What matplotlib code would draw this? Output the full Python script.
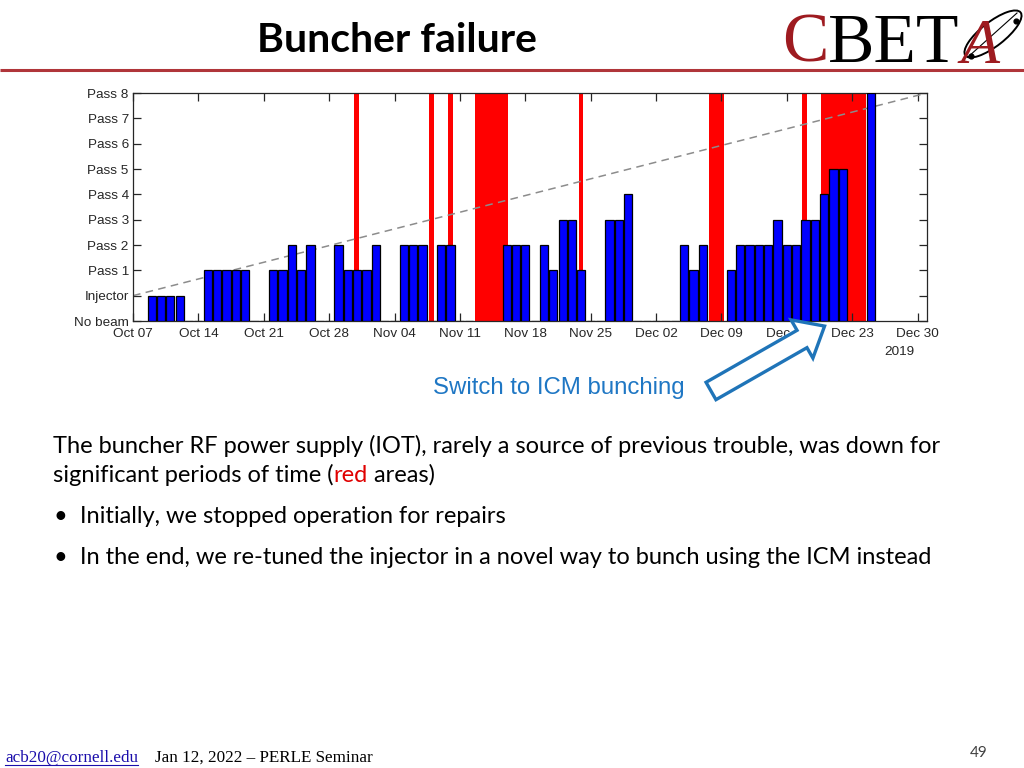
import numpy as np
import pandas as pd
import matplotlib
matplotlib.use("Agg")
import matplotlib.pyplot as plt
import matplotlib.dates as mdates
from matplotlib.patches import FancyArrow, Ellipse

# Daily beam status, Oct 09 .. Dec 25 2019
# 0 = No beam, 1 = Injector, 2 = Pass 1 ... 9 = Pass 8, nan = no entry
first_day = "2019-10-09"
levels = [1, 1, 1, 1, 0, 0, 2, 2, 2, 2, 2, 0, 0, 2, 2, 3, 2, 3, 0, 0,
          3, 2, 2, 2, 3, 0, 0, 3, 3, 3, 0, 3, 3, 0, 0, np.nan, np.nan, np.nan,
          3, 3, 3, 0, 3, 2, 4, 4, 2, 0, 0, 4, 4, 5, 0, 0, 0, 0, 0,
          3, 2, 3, np.nan, np.nan, 2, 3, 3, 3, 3, 4, 3, 3, 4, 4, 5, 6, 6,
          np.nan, np.nan, 9]

# Buncher down periods (red areas)
down_start = ["2019-10-30 17:00", "2019-11-07 17:00", "2019-11-09 17:00",
              "2019-11-12 15:30", "2019-11-23 17:00", "2019-12-07 15:30",
              "2019-12-17 15:30", "2019-12-19 15:30"]
down_end = ["2019-10-31 05:00", "2019-11-08 05:00", "2019-11-10 05:00",
            "2019-11-16 03:30", "2019-11-24 05:00", "2019-12-09 06:00",
            "2019-12-18 03:30", "2019-12-24 11:00"]

# Goal line: Injector on Oct 07 to Pass 8 at end of December
goal_dates = ["2019-10-07", "2019-12-31"]
goal_levels = [1, 9]

level_names = ["No beam", "Injector", "Pass 1", "Pass 2", "Pass 3",
               "Pass 4", "Pass 5", "Pass 6", "Pass 7", "Pass 8"]
tick_dates = pd.date_range("2019-10-07", "2019-12-30", freq="7D")

days = pd.date_range(first_day, periods=len(levels), freq="D")
df = pd.DataFrame({"day": days, "level": levels}).dropna()

fig = plt.figure(figsize=(10.24, 7.68), dpi=100)
fig.patch.set_facecolor("white")

# ---- chart ----
ax = fig.add_axes([133 / 1024, 1 - 321 / 768, 794 / 1024, 228 / 768])
for s, e in zip(down_start, down_end):
    ax.axvspan(pd.Timestamp(s), pd.Timestamp(e), color="#ff0000", lw=0, zorder=1)
ax.plot(pd.to_datetime(goal_dates), goal_levels, ls=(0, (5, 3.5)), color="#8c8c8c",
        lw=1.1, zorder=2)
ax.bar(df["day"], df["level"], width=0.88, color="#0000ff", edgecolor="black",
       linewidth=0.9, zorder=3)

ax.set_xlim(pd.Timestamp("2019-10-07"), pd.Timestamp("2019-12-31"))
ax.set_ylim(0, 9)
ax.set_yticks(range(10))
ax.set_yticklabels(level_names)
ax.set_xticks(tick_dates)
ax.xaxis.set_major_formatter(mdates.DateFormatter("%b %d"))
for sp in ax.spines.values():
    sp.set_color("#262626")
    sp.set_linewidth(0.9)
ax.tick_params(direction="in", length=5.5, width=0.9, color="#262626",
               top=True, right=True, labelsize=9.7, labelcolor="#262626")
ax.tick_params(axis="x", pad=5)
ax.tick_params(axis="y", pad=3)
for lab in ax.get_xticklabels() + ax.get_yticklabels():
    lab.set_fontfamily("Liberation Sans")
ax.annotate("2019", xy=(pd.Timestamp("2019-12-30"), 0),
            xycoords=("data", "axes fraction"), xytext=(-13, -22.5),
            textcoords="offset points", ha="center", va="center",
            fontsize=9.7, color="#262626", family="Liberation Sans")

# ---- slide overlay in pixel coordinates ----
sl = fig.add_axes([0, 0, 1, 1], zorder=5)
sl.set_xlim(0, 1024)
sl.set_ylim(768, 0)
sl.axis("off")
sl.patch.set_alpha(0)
rend = fig.canvas.get_renderer()

sl.text(397, 40, "Buncher failure", ha="center", va="center", fontsize=29.5,
        fontweight="bold", family="Lato", color="black")
sl.plot([0, 1024], [69.5, 69.5], color="#b0353a", lw=2.2, solid_capstyle="butt")

# logo
c = sl.text(782, 62, "C", fontsize=50, family="Liberation Serif",
            color="#9e1b20", va="baseline")
x = c.get_window_extent(rend).x1
b = sl.text(x, 62, "BET", fontsize=50, family="Liberation Serif",
            color="black", va="baseline")
x = b.get_window_extent(rend).x1
sl.text(x + 1, 63, "A", fontsize=46, family="Liberation Serif", style="italic",
        color="#9e1b20", va="baseline")
sl.add_patch(Ellipse((993, 34), 70, 24, angle=-38, fill=False, ec="black", lw=1.4))
sl.plot([968, 1017], [57, 13], color="black", lw=0.8)
sl.scatter([971, 1016], [56, 21], s=12, color="black", zorder=6)

# callout
sl.text(433, 388, "Switch to ICM bunching", ha="left", va="center", fontsize=17.3,
        family="Liberation Sans", color="#1f77c4")
sl.add_patch(FancyArrow(711, 391, 114 - 23, -65 + 13, width=20, head_width=44,
                        head_length=26, length_includes_head=False,
                        fc="white", ec="#1f74b8", lw=2.4, zorder=7))

# body text
body_kw = dict(fontsize=17, family="Lato", color="black", va="baseline")
sl.text(53, 453, "The buncher RF power supply (IOT), rarely a source of previous "
        "trouble, was down for", **body_kw)
t = sl.text(53, 482, "significant periods of time (", **body_kw)
x = t.get_window_extent(rend).x1
t = sl.text(x, 482, "red", **{**body_kw, "color": "#e00000"})
x = t.get_window_extent(rend).x1
sl.text(x, 482, " areas)", **body_kw)
sl.text(54, 523, "\u2022", **body_kw)
sl.text(80, 523, "Initially, we stopped operation for repairs", **body_kw)
sl.text(54, 564, "\u2022", **body_kw)
sl.text(80, 564, "In the end, we re-tuned the injector in a novel way to bunch "
        "using the ICM instead", **body_kw)

# footer
e = sl.text(5, 762, "acb20@cornell.edu", fontsize=12.3, family="Liberation Serif",
            color="#1a0dab", va="baseline")
bb = e.get_window_extent(rend)
sl.plot([bb.x0, bb.x1], [764.5, 764.5], color="#1a0dab", lw=0.8)
sl.text(155, 762, "Jan 12, 2022 \u2013 PERLE Seminar", fontsize=12.3,
        family="Liberation Serif", color="black", va="baseline")
sl.text(979, 753, "49", ha="center", va="center", fontsize=11, family="Lato",
        color="#404040")

fig.savefig("out.png", dpi=100)
